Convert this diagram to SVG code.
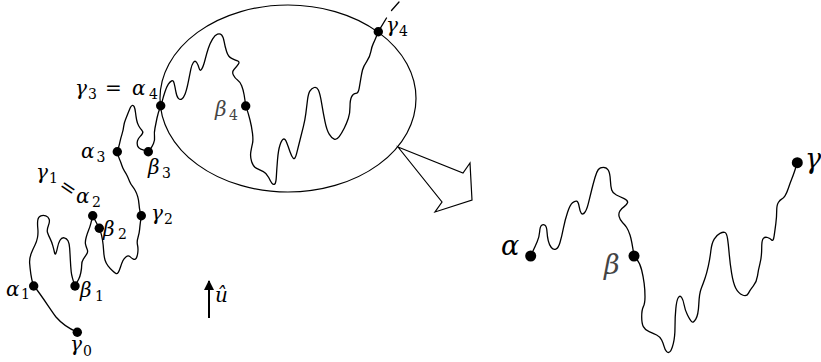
<svg xmlns="http://www.w3.org/2000/svg" width="821" height="362" viewBox="0 0 821 362">
<style>
.w{fill:none;stroke:#000;stroke-width:1.3;stroke-linejoin:round;stroke-linecap:round}
.d{fill:#000}
.l{font-family:"DejaVu Serif","Liberation Serif",serif;font-style:italic;font-size:20px;fill:#000}
.s{font-style:normal;font-size:14px}
.r{font-family:"DejaVu Serif","Liberation Serif",serif;font-style:italic;font-size:27px;fill:#000}
.g{fill:#444}
</style>
<defs>
<marker id="ah" viewBox="0 0 10 10" refX="9" refY="5" markerWidth="5" markerHeight="5" orient="auto"><path d="M0,0 L10,5 L0,10 Z" fill="#000"/></marker>
</defs>
<g id="zoom-ellipse"><ellipse cx="288" cy="98.5" rx="128" ry="93.5" fill="none" stroke="#000" stroke-width="1.2"/></g>
<g id="zoom-arrow"><polygon points="398,147 463,173 470,163 472,200 435,212 442,202" fill="#fff" stroke="#000" stroke-width="1.2" stroke-linejoin="miter"/></g>
<g id="connectors">
<path class="w" d="M77,332 C70,329 62,324 56,317 C50,309 42,296 34,286"/>
<path class="w" d="M33.7,286 L32.7,283 Q31.7,280 30.85,274.15 Q30,268.3 29.65,263.3 Q29.3,258.3 31.3,253.3 Q33.3,248.3 35,245 Q36.7,241.7 37.5,237.5 Q38.3,233.3 37.8,228.3 Q37.3,223.3 37.8,220 Q38.3,216.7 40.8,215.85 Q43.3,215 45.8,215.85 Q48.3,216.7 49.15,219.2 Q50,221.7 48.35,225.85 Q46.7,230 47.5,232.5 Q48.3,235 50,238.35 Q51.7,241.7 52.85,245.85 Q54,250 54.5,252.5 Q55,255 55.85,253.35 Q56.7,251.7 57.5,247.5 Q58.3,243.3 60,240.3 Q61.7,237.3 64.2,237.8 Q66.7,238.3 68,240.8 Q69.3,243.3 69.65,248.3 Q70,253.3 70.35,260 Q70.7,266.7 71.2,271.7 Q71.7,276.7 75,286"/>
<path class="w" d="M75,286 L76.15,283.85 Q77.3,281.7 78.65,279.2 Q80,276.7 80.85,272.5 Q81.7,268.3 81.7,265 Q81.7,261.7 83.35,259.2 Q85,256.7 86.65,254.2 Q88.3,251.7 87.15,249.2 Q86,246.7 85.5,244.2 Q85,241.7 86.15,237.5 Q87.3,233.3 88.65,230 Q90,226.7 90.85,223.35 Q91.7,220 92.7,215.7 L99.3,228.3"/>
<path class="w" d="M99.3,228.3 L100.5,231.65 Q101.7,235 102.5,240 Q103.3,245 103.65,250.85 Q104,256.7 105,260 Q106,263.3 108,265.8 Q110,268.3 112.5,270.8 Q115,273.3 116.15,273.65 Q117.3,274 118.3,272.35 Q119.3,270.7 120.5,267 Q121.7,263.3 122.85,260.8 Q124,258.3 126.15,256.65 Q128.3,255 130,256.65 Q131.7,258.3 133.35,259.15 Q135,260 136.15,258.35 Q137.3,256.7 137.8,252.5 Q138.3,248.3 137.5,245 Q136.7,241.7 138,237.5 Q139.3,233.3 139.65,229.15 Q140,225 141.3,215.7"/>
<path class="w" d="M141,215.7 L140.15,212 Q139.3,208.3 139,204.15 Q138.7,200 137.7,196.65 Q136.7,193.3 135.35,190.8 Q134,188.3 132.35,186.15 Q130.7,184 129.5,181.15 Q128.3,178.3 127.15,175.8 Q126,173.3 124.35,170.8 Q122.7,168.3 121.7,165 Q120.7,161.7 119.5,159.2 Q118.3,156.7 117.3,151.7"/>
<path class="w" d="M117.3,151.7 L118.3,148.35 Q119.3,145 120,141.65 Q120.7,138.3 122,134.15 Q123.3,130 123.65,126.65 Q124,123.3 125.35,120 Q126.7,116.7 128,113.35 Q129.3,110 130.15,108 Q131,106 132.15,105.5 Q133.3,105 134.15,106.65 Q135,108.3 135.5,112.5 Q136,116.7 136.65,120 Q137.3,123.3 138.65,125.8 Q140,128.3 141.65,130 Q143.3,131.7 142.5,133.35 Q141.7,135 140,136.65 Q138.3,138.3 137.5,140.8 Q136.7,143.3 137.5,145.8 Q138.3,148.3 140.8,149.15 Q143.3,150 148.3,151.7"/>
<path class="w" d="M148.3,151.7 L150.15,149.35 Q152,147 153.5,143.5 Q155,140 154.5,136.5 Q154,133 155,128 Q156,123 157,118 Q158,113 160.7,105.7"/>
<path class="w" d="M161,106 L162.15,101.35 Q163.3,96.7 165,91.7 Q166.7,86.7 168.35,84.2 Q170,81.7 171.65,80.85 Q173.3,80 174.15,83.35 Q175,86.7 175.85,91.7 Q176.7,96.7 178.35,98.35 Q180,100 181.65,99.15 Q183.3,98.3 185,94.15 Q186.7,90 188.35,81.65 Q190,73.3 190.85,69.15 Q191.7,65 193.35,62.5 Q195,60 196.65,62.5 Q198.3,65 199.15,68.35 Q200,71.7 201.65,69.2 Q203.3,66.7 205,60 Q206.7,53.3 208.35,48.3 Q210,43.3 212.5,39.15 Q215,35 217.5,34.15 Q220,33.3 221.65,35 Q223.3,36.7 224.15,41.7 Q225,46.7 226.65,51.7 Q228.3,56.7 231.65,58.35 Q235,60 237.5,60.85 Q240,61.7 238.35,64.2 Q236.7,66.7 234.2,69.2 Q231.7,71.7 233.35,75 Q235,78.3 237.5,80 Q240,81.7 241.65,85.85 Q243.3,90 244.15,95 Q245,100 245.7,106"/>
<path class="w" d="M245.7,106 L247,109.65 Q248.3,113.3 250,120 Q251.7,126.7 252.5,133.35 Q253.3,140 252.5,143.35 Q251.7,146.7 250.85,151.7 Q250,156.7 251.65,161.7 Q253.3,166.7 256.65,168.35 Q260,170 263.35,171.65 Q266.7,173.3 268.7,177.5 Q270.7,181.7 272,183.35 Q273.3,185 274.65,184.15 Q276,183.3 276.35,176.65 Q276.7,170 277.5,160 Q278.3,150 280,145 Q281.7,140 283.35,139.15 Q285,138.3 286.65,142.5 Q288.3,146.7 290,151.7 Q291.7,156.7 293.35,158.35 Q295,160 296.65,153.35 Q298.3,146.7 300,140 Q301.7,133.3 303.35,126.65 Q305,120 305.85,113.35 Q306.7,106.7 307.5,100 Q308.3,93.3 310,90.8 Q311.7,88.3 314.2,87.5 Q316.7,86.7 318.35,90 Q320,93.3 321.65,103.3 Q323.3,113.3 325,121.65 Q326.7,130 329.2,134.15 Q331.7,138.3 334.2,139.15 Q336.7,140 339.2,136.65 Q341.7,133.3 344.2,128.3 Q346.7,123.3 348.35,118.3 Q350,113.3 350,106.65 Q350,100 351.65,96.65 Q353.3,93.3 355.8,93.3 Q358.3,93.3 359.15,88.3 Q360,83.3 360.85,78.3 Q361.7,73.3 362.5,70 Q363.3,66.7 366.65,61.7 Q370,56.7 370.85,51.7 Q371.7,46.7 373.35,43.35 Q375,40 378.3,31.7 L386.5,18"/>
<line class="w" x1="391.5" y1="10.5" x2="399" y2="2"/>
<path class="w" d="M530.7,256 L532.85,251.35 Q535,246.7 537.15,241.7 Q539.3,236.7 539.65,231.7 Q540,226.7 541.65,225.35 Q543.3,224 545,225.35 Q546.7,226.7 547,231.7 Q547.3,236.7 548.3,240.85 Q549.3,245 551.3,247.5 Q553.3,250 555.8,249.15 Q558.3,248.3 560,242.5 Q561.7,236.7 563.35,228.35 Q565,220 567.5,212.5 Q570,205 572.5,202.85 Q575,200.7 576.65,201.2 Q578.3,201.7 579.15,206.7 Q580,211.7 581.35,213.35 Q582.7,215 584.7,212.5 Q586.7,210 588.35,203.35 Q590,196.7 591.65,190 Q593.3,183.3 595,177.5 Q596.7,171.7 598.35,169.5 Q600,167.3 603.35,167.3 Q606.7,167.3 608.35,170.3 Q610,173.3 610.35,180 Q610.7,186.7 611.7,190 Q612.7,193.3 616.35,195 Q620,196.7 624.15,198.7 Q628.3,200.7 627.5,202.85 Q626.7,205 624.2,206.65 Q621.7,208.3 620,210.8 Q618.3,213.3 619.15,216.65 Q620,220 622.5,222.5 Q625,225 626.65,227.5 Q628.3,230 630,235 Q631.7,240 634,256"/>
<path class="w" d="M634,256 L637,259.65 Q640,263.3 641.65,270 Q643.3,276.7 644.15,283.35 Q645,290 645,296.65 Q645,303.3 643.35,306.65 Q641.7,310 641.7,316.65 Q641.7,323.3 643.35,326.65 Q645,330 649.15,331.65 Q653.3,333.3 656.65,335 Q660,336.7 661.65,340 Q663.3,343.3 664.15,346.65 Q665,350 666.65,351.65 Q668.3,353.3 670,351.65 Q671.7,350 673.35,343.35 Q675,336.7 675,326.7 Q675,316.7 675.85,308.35 Q676.7,300 678.35,297.5 Q680,295 681.65,297.5 Q683.3,300 684.15,305 Q685,310 687.5,315 Q690,320 691.65,321.65 Q693.3,323.3 695.8,319.15 Q698.3,315 698.8,304.15 Q699.3,293.3 701.3,288.3 Q703.3,283.3 705,278.3 Q706.7,273.3 708.35,265.8 Q710,258.3 710.85,250.8 Q711.7,243.3 714.2,239.15 Q716.7,235 720,233.35 Q723.3,231.7 725,232.5 Q726.7,233.3 727.5,238.3 Q728.3,243.3 729.15,253.3 Q730,263.3 731.65,273.3 Q733.3,283.3 735.8,288.3 Q738.3,293.3 742.5,295 Q746.7,296.7 748.35,293.35 Q750,290 753.35,285.85 Q756.7,281.7 757.5,275.85 Q758.3,270 760,263.35 Q761.7,256.7 761.7,248.35 Q761.7,240 763.35,238.35 Q765,236.7 767.5,237.5 Q770,238.3 771.65,240 Q773.3,241.7 774.15,235.85 Q775,230 775.85,223.35 Q776.7,216.7 776.7,210.85 Q776.7,205 778.35,202.5 Q780,200 781.65,199.15 Q783.3,198.3 785,195.8 Q786.7,193.3 788.35,188.3 Q790,183.3 792,178.3 Q794,173.3 797.3,162.7"/>
</g>
<g id="gamma0"><circle class="d" cx="77.3" cy="332.3" r="4.7"/><text class="l" x="70" y="351">γ<tspan class="s" x="83" y="356">0</tspan></text></g>
<g id="alpha1"><circle class="d" cx="33.7" cy="286" r="4.7"/><text class="l" x="6" y="296">α<tspan class="s" x="21" y="299">1</tspan></text></g>
<g id="beta1"><circle class="d" cx="75" cy="286" r="4.7"/><text class="l" x="80" y="297">β<tspan class="s" x="95" y="301">1</tspan></text></g>
<g id="alpha2"><circle class="d" cx="92.7" cy="215.7" r="4.7"/><text class="l" x="36" y="179">γ<tspan class="s" x="49" y="183">1</tspan></text><text class="l" font-style="normal" transform="translate(67.5,188) rotate(34)" x="-8" y="6">=</text><text class="l" x="76" y="203">α<tspan class="s" x="92" y="207">2</tspan></text></g>
<g id="beta2"><circle class="d" cx="99.3" cy="228.3" r="4.7"/><text class="l" x="103" y="236">β<tspan class="s" x="118" y="239">2</tspan></text></g>
<g id="gamma2"><circle class="d" cx="141.3" cy="215.7" r="4.7"/><text class="l" x="151" y="220">γ<tspan class="s" x="164" y="224">2</tspan></text></g>
<g id="alpha3"><circle class="d" cx="117.3" cy="151.7" r="4.7"/><text class="l" x="81" y="158">α<tspan class="s" x="96.5" y="162">3</tspan></text></g>
<g id="beta3"><circle class="d" cx="148.3" cy="151.7" r="4.7"/><text class="l" x="148" y="174">β<tspan class="s" x="162" y="178">3</tspan></text></g>
<g id="gamma3-alpha4"><circle class="d" cx="160.7" cy="105.7" r="4.7"/><text class="l" x="75" y="95">γ<tspan class="s" x="88" y="99">3</tspan><tspan font-style="normal" x="105" y="95">=</tspan><tspan x="132" y="95">α</tspan><tspan class="s" x="149" y="99">4</tspan></text></g>
<g id="beta4"><circle class="d" cx="245.7" cy="106" r="4.7"/><text class="l g" x="215" y="116">β<tspan class="s" x="229" y="120">4</tspan></text></g>
<g id="gamma4"><circle class="d" cx="378.3" cy="31.7" r="4.7"/><text class="l" x="386" y="32">γ<tspan class="s" x="399" y="36">4</tspan></text></g>
<g id="alpha"><circle class="d" cx="530.7" cy="256" r="5.5"/><text class="r" x="501" y="255">α</text></g>
<g id="beta"><circle class="d" cx="634" cy="256" r="5.5"/><text class="r g" x="604" y="274">β</text></g>
<g id="gamma"><circle class="d" cx="797.3" cy="162.7" r="5.5"/><text class="r" x="805" y="168">γ</text></g>
<g id="u-hat"><line x1="209" y1="318" x2="209" y2="281" stroke="#000" stroke-width="2" marker-end="url(#ah)"/><text class="l" x="215" y="302">û</text></g>
</svg>
